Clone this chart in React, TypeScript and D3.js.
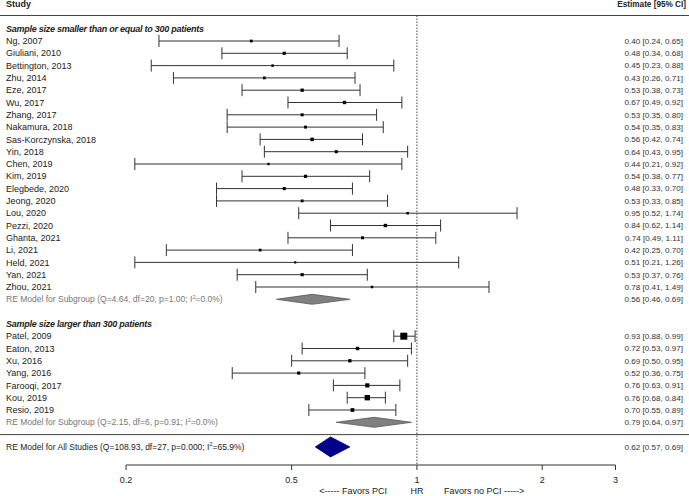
import React from 'react';
import * as d3 from 'd3';

// group 1: sample size <= 300
const studies1 = ['Ng, 2007', 'Giuliani, 2010', 'Bettington, 2013', 'Zhu, 2014', 'Eze, 2017', 'Wu, 2017', 'Zhang, 2017', 'Nakamura, 2018', 'Sas-Korczynska, 2018', 'Yin, 2018', 'Chen, 2019', 'Kim, 2019', 'Elegbede, 2020', 'Jeong, 2020', 'Lou, 2020', 'Pezzi, 2020', 'Ghanta, 2021', 'Li, 2021', 'Held, 2021', 'Yan, 2021', 'Zhou, 2021'];
const est1 = [0.40, 0.48, 0.45, 0.43, 0.53, 0.67, 0.53, 0.54, 0.56, 0.64, 0.44, 0.54, 0.48, 0.53, 0.95, 0.84, 0.74, 0.42, 0.51, 0.53, 0.78];
const lo1 = [0.24, 0.34, 0.23, 0.26, 0.38, 0.49, 0.35, 0.35, 0.42, 0.43, 0.21, 0.38, 0.33, 0.33, 0.52, 0.62, 0.49, 0.25, 0.21, 0.37, 0.41];
const hi1 = [0.65, 0.68, 0.88, 0.71, 0.73, 0.92, 0.80, 0.83, 0.74, 0.95, 0.92, 0.77, 0.70, 0.85, 1.74, 1.14, 1.11, 0.70, 1.26, 0.76, 1.49];

// group 2: sample size > 300
const studies2 = ['Patel, 2009', 'Eaton, 2013', 'Xu, 2016', 'Yang, 2016', 'Farooqi, 2017', 'Kou, 2019', 'Resio, 2019'];
const est2 = [0.93, 0.72, 0.69, 0.52, 0.76, 0.76, 0.70];
const lo2 = [0.88, 0.53, 0.50, 0.36, 0.63, 0.68, 0.55];
const hi2 = [0.99, 0.97, 0.95, 0.75, 0.91, 0.84, 0.89];

// pooled estimates [est, lo, hi]
const sub1 = [0.56, 0.46, 0.69];
const sub2 = [0.79, 0.64, 0.97];
const overall = [0.62, 0.57, 0.69];

const sub1Label = ['RE Model for Subgroup (Q=4.64, df=20, p=1.00; I', '=0.0%)'];
const sub2Label = ['RE Model for Subgroup (Q=2.15, df=6, p=0.91; I', '=0.0%)'];
const allLabel = ['RE Model for All Studies (Q=108.93, df=27, p=0.000; I', '=65.9%)'];

const ticks = [0.2, 0.5, 1, 2, 3];

const W = 689, H = 496;
const FONT = 'Liberation Sans, Arial, sans-serif';
const FS = 9;
const FS_EST = 8.1;
const FS_SUM = 8.5;

const x = d3.scaleLog().domain([0.2, 3]).range([126, 615.5]);
const y0 = 28.7, dy = 12.3;
const rowY = (k: number) => y0 + k * dy;
const f2 = d3.format('.2f');
const ciText = (e: number, l: number, h: number) => `${f2(e)} [${f2(l)}, ${f2(h)}]`;

// square size from inverse standard error, like metafor does
const allLo = lo1.concat(lo2), allHi = hi1.concat(hi2);
const wts = allLo.map((l, i) => 3.92 / (Math.log(allHi[i]) - Math.log(l)));
const size = d3.scaleSqrt().domain([d3.min(wts)!, d3.max(wts)!]).range([2.2, 7]);

const Study = ({ name, e, l, h, w, k }: any) => {
  const yy = rowY(k);
  const s = size(w);
  return (
    <g>
      <text x={6} y={yy} dy="0.35em" fill="#222">{name}</text>
      <line x1={x(l)} x2={x(h)} y1={yy} y2={yy} stroke="#333" strokeWidth={1} />
      <line x1={x(l)} x2={x(l)} y1={yy - 6} y2={yy + 6} stroke="#333" strokeWidth={1} />
      <line x1={x(h)} x2={x(h)} y1={yy - 6} y2={yy + 6} stroke="#333" strokeWidth={1} />
      <rect x={x(e) - s / 2} y={yy - s / 2} width={s} height={s} fill="#000" />
      <text x={683} y={yy} dy="0.35em" textAnchor="end" fill="#333" fontSize={FS_EST}>{ciText(e, l, h)}</text>
    </g>
  );
};

const Diamond = ({ v, k, half, fill, stroke }: any) => {
  const yy = rowY(k);
  const pts = [[x(v[1]), yy], [x(v[0]), yy - half], [x(v[2]), yy], [x(v[0]), yy + half]];
  return <polygon points={pts.map(p => p.join(',')).join(' ')} fill={fill} stroke={stroke} strokeWidth={0.8} />;
};

const Summary = ({ label, v, k, color }: any) => {
  const yy = rowY(k);
  return (
    <g>
      <text x={6} y={yy} dy="0.35em" fill={color} fontSize={FS_SUM}>
        {label[0]}<tspan fontSize={5.5} dy={-3.5}>2</tspan><tspan dy={3.5}>{label[1]}</tspan>
      </text>
      <text x={683} y={yy} dy="0.35em" textAnchor="end" fill="#333" fontSize={FS_EST}>{ciText(v[0], v[1], v[2])}</text>
    </g>
  );
};

export default function App() {
  const axisY = 465;
  const g2 = 24;
  return (
    <svg width={W} height={H} style={{ position: 'absolute', left: 0, top: 0, background: '#fff' }}
      fontFamily={FONT} fontSize={FS}>
      <rect width={W} height={H} fill="#fff" />
      <text x={6} y={4} dy="0.35em" fontWeight="bold" fill="#222">Study</text>
      <text x={686} y={4} dy="0.35em" fontWeight="bold" textAnchor="end" fill="#222" fontSize={8.2}>Estimate [95% CI]</text>
      <line x1={0} x2={W} y1={15.5} y2={15.5} stroke="#444" strokeWidth={1} />
      <line x1={x(1)} x2={x(1)} y1={15.5} y2={axisY} stroke="#444" strokeWidth={1} strokeDasharray="1.5,1.5" />

      <text x={6} y={rowY(0)} dy="0.35em" fontWeight="bold" fontStyle="italic" fill="#222"
        textLength={198} lengthAdjust="spacing">Sample size smaller than or equal to 300 patients</text>
      {studies1.map((n, i) => (
        <Study key={n} name={n} e={est1[i]} l={lo1[i]} h={hi1[i]} w={wts[i]} k={i + 1} />
      ))}
      <Diamond v={sub1} k={22} half={5} fill="#808080" stroke="#555" />
      <Summary label={sub1Label} v={sub1} k={22} color="#777" />

      <text x={6} y={rowY(g2)} dy="0.35em" fontWeight="bold" fontStyle="italic" fill="#222"
        textLength={146} lengthAdjust="spacing">Sample size larger than 300 patients</text>
      {studies2.map((n, i) => (
        <Study key={n} name={n} e={est2[i]} l={lo2[i]} h={hi2[i]} w={wts[studies1.length + i]} k={g2 + 1 + i} />
      ))}
      <Diamond v={sub2} k={32} half={5} fill="#808080" stroke="#555" />
      <Summary label={sub2Label} v={sub2} k={32} color="#777" />

      <line x1={0} x2={W} y1={rowY(33)} y2={rowY(33)} stroke="#444" strokeWidth={1} />
      <Diamond v={overall} k={34} half={10} fill="#00008b" stroke="#00006b" />
      <Summary label={allLabel} v={overall} k={34} color="#222" />

      {/* x axis */}
      <line x1={x(0.2)} x2={x(3)} y1={axisY} y2={axisY} stroke="#333" />
      {ticks.map(t => (
        <g key={t}>
          <line x1={x(t)} x2={x(t)} y1={axisY} y2={axisY + 5} stroke="#333" />
          <text x={x(t)} y={480} dy="0.35em" textAnchor="middle" fill="#222">{t}</text>
        </g>
      ))}
      <text x={387} y={491} dy="0.35em" textAnchor="end" fill="#222">{'<----- Favors PCI'}</text>
      <text x={x(1)} y={491} dy="0.35em" textAnchor="middle" fill="#222">HR</text>
      <text x={444} y={491} dy="0.35em" fill="#222">{'Favors no PCI ----->'}</text>
    </svg>
  );
}
